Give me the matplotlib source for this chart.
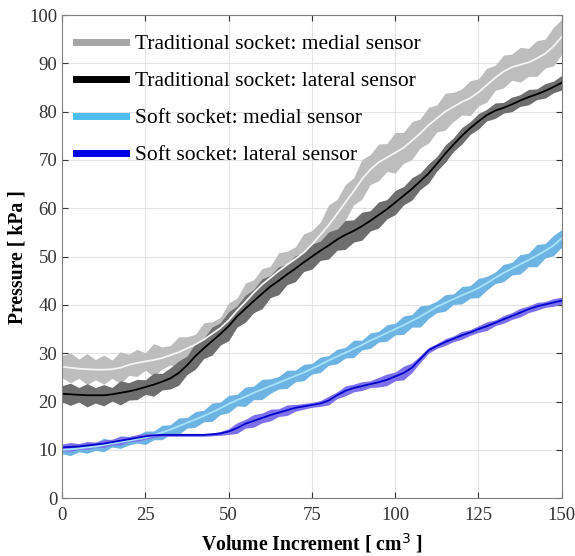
import numpy as np
import matplotlib
matplotlib.use("Agg")
import matplotlib.pyplot as plt

plt.rcParams['font.family'] = ['Liberation Serif', 'DejaVu Serif']

# volume increment grid (cm^3)
vol = np.arange(0, 150.01, 2.5)

# mean pressure curves (kPa)
trad_medial = [27.2, 27.0, 26.8, 26.7, 26.6, 26.6, 26.7, 27.0, 27.6, 28.0,
               28.3, 28.6, 29.0, 29.6, 30.2, 31.0, 31.8, 32.8, 34.0, 35.2,
               36.8, 38.8, 40.6, 42.5, 44.2, 45.6, 47.0, 48.3, 49.5, 50.8,
               52.5, 54.5, 56.5, 58.8, 61.2, 63.5, 66.0, 68.0, 69.5, 70.5,
               71.5, 72.5, 74.0, 75.5, 77.2, 78.6, 80.0, 81.0, 82.0, 82.8,
               84.0, 85.5, 87.0, 88.3, 89.2, 89.7, 90.2, 91.0, 92.0, 93.5,
               95.5]
trad_lateral = [21.6, 21.5, 21.4, 21.3, 21.3, 21.3, 21.5, 21.8, 22.1, 22.5,
                23.0, 23.5, 24.1, 24.8, 25.9, 27.5, 29.4, 31.0, 32.5, 34.0,
                35.6, 37.6, 39.2, 40.8, 42.3, 43.8, 45.0, 46.3, 47.5, 48.8,
                50.0, 51.2, 52.3, 53.5, 54.5, 55.3, 56.3, 57.4, 58.6, 59.8,
                61.2, 62.6, 64.0, 65.6, 67.2, 69.2, 71.3, 73.2, 75.0, 76.6,
                78.0, 79.3, 80.2, 80.8, 81.5, 82.3, 83.0, 83.6, 84.3, 85.1,
                86.0]
soft_medial = [10.0, 10.1, 10.3, 10.5, 10.7, 11.0, 11.3, 11.6, 11.9, 12.2,
               12.5, 13.0, 13.6, 14.2, 14.9, 15.6, 16.3, 17.0, 17.8, 18.6,
               19.5, 20.3, 21.0, 21.8, 22.5, 23.2, 23.9, 24.6, 25.3, 26.0,
               26.8, 27.6, 28.5, 29.3, 30.1, 30.9, 31.7, 32.6, 33.4, 34.2,
               35.0, 35.8, 36.7, 37.6, 38.6, 39.6, 40.4, 41.2, 42.0, 42.7,
               43.5, 44.5, 45.6, 46.6, 47.5, 48.4, 49.3, 50.2, 51.2, 52.3,
               53.8]
soft_lateral = [10.5, 10.6, 10.7, 10.9, 11.1, 11.3, 11.6, 11.9, 12.2, 12.5,
                12.8, 13.0, 13.1, 13.1, 13.1, 13.1, 13.1, 13.1, 13.2, 13.4,
                13.8, 14.5, 15.4, 16.0, 16.6, 17.2, 17.7, 18.2, 18.7, 19.0,
                19.3, 19.6, 20.2, 21.3, 22.2, 22.8, 23.2, 23.6, 24.0, 24.5,
                25.2, 25.9, 27.0, 28.8, 30.6, 31.5, 32.3, 33.0, 33.7, 34.3,
                35.0, 35.6, 36.3, 37.0, 37.7, 38.4, 39.1, 39.7, 40.1, 40.5,
                40.9]

# spread (half width of the shaded band), estimated
trad_medial_sd = [2.3, 3.1, 2.0, 3.2, 2.1, 3.0, 1.9, 3.3, 2.2, 2.8,
                  1.8, 3.4, 2.3, 2.0, 3.2, 2.4, 2.1, 3.5, 2.5, 2.2,
                  3.6, 2.6, 3.9, 2.7, 3.3, 2.4, 3.8, 2.8, 2.5, 3.9,
                  2.9, 2.6, 4.2, 3.0, 3.7, 2.8, 4.1, 3.1, 3.8, 2.9,
                  4.2, 3.2, 3.9, 3.0, 3.7, 2.8, 3.8, 3.0, 2.7, 3.6,
                  2.8, 3.5, 2.6, 3.4, 2.7, 3.6, 2.9, 3.7, 3.0, 4.0,
                  3.6]
trad_lateral_sd = [1.7, 2.3, 1.5, 2.4, 1.6, 2.2, 1.4, 2.5, 1.8, 2.1,
                   1.5, 2.4, 1.7, 2.2, 2.5, 1.9, 2.7, 2.1, 2.9, 2.3,
                   3.0, 2.2, 2.8, 2.4, 3.1, 2.3, 2.9, 2.1, 2.7, 1.9,
                   2.6, 2.0, 2.8, 2.2, 3.0, 2.3, 2.9, 2.1, 2.7, 2.0,
                   2.5, 1.9, 2.3, 1.7, 2.0, 1.5, 1.8, 1.4, 1.7, 1.3,
                   1.6, 1.2, 1.6, 1.1, 1.5, 1.2, 1.6, 1.1, 1.5, 1.2,
                   1.5]
soft_medial_sd = [0.8, 1.3, 0.7, 1.2, 0.8, 1.4, 0.7, 1.3, 0.9, 0.8,
                  1.4, 0.9, 1.5, 1.0, 1.7, 1.1, 1.6, 1.2, 1.9, 1.3,
                  1.8, 1.2, 2.0, 1.4, 2.1, 1.5, 1.3, 1.9, 1.2, 1.7,
                  1.1, 1.6, 1.0, 1.5, 1.1, 1.8, 1.0, 1.6, 1.1, 1.7,
                  1.2, 1.9, 1.3, 2.2, 1.4, 1.2, 1.7, 1.1, 1.8, 1.3,
                  2.0, 1.4, 1.2, 1.8, 1.3, 2.0, 1.4, 2.3, 1.5, 2.1,
                  1.8]
soft_lateral_sd = [0.7, 0.9, 0.6, 0.8, 0.5, 0.8, 0.6, 0.9, 0.5, 0.7,
                   0.6, 0.4, 0.3, 0.3, 0.3, 0.3, 0.3, 0.3, 0.3, 0.4,
                   0.6, 1.1, 0.9, 1.3, 1.0, 1.2, 0.8, 1.1, 0.7, 0.6,
                   0.5, 0.6, 0.9, 0.7, 1.0, 0.8, 0.9, 0.7, 1.0, 1.2,
                   0.9, 1.4, 1.0, 0.7, 0.6, 0.5, 0.7, 0.6, 0.8, 0.6,
                   0.7, 0.9, 0.6, 0.8, 0.7, 0.9, 0.7, 0.8, 0.6, 0.8,
                   0.7]

labels = ['Traditional socket: medial sensor',
          'Traditional socket: lateral sensor',
          'Soft socket: medial sensor',
          'Soft socket: lateral sensor']
means = [trad_medial, trad_lateral, soft_medial, soft_lateral]
spreads = [trad_medial_sd, trad_lateral_sd, soft_medial_sd, soft_lateral_sd]
band_colors = ['#bdbdbd', '#6e6e6e', '#6db4e2', '#7d70ee']
line_colors = ['#f4f4f4', '#000000', '#a6e3f6', '#0000c8']
legend_colors = ['#a5a5a5', '#000000', '#4dbeee', '#0000e6']

fig = plt.figure(figsize=(5.75, 5.56), dpi=100)
ax = fig.add_axes([0.108, 0.104, 0.869, 0.869])

for m, s, c in zip(means, spreads, band_colors):
    m = np.array(m)
    s = np.array(s)
    ax.fill_between(vol, m - s, m + s, color=c, linewidth=0)

for m, c in zip(means, line_colors):
    ax.plot(vol, m, color=c, linewidth=1.3)

# legend handles use the thick legend colours
handles = [plt.Line2D([], [], color=c, linewidth=5) for c in legend_colors]
ax.legend(handles, labels, loc='upper left', frameon=False, fontsize=15.5,
          handlelength=2.3, handletextpad=0.4, labelspacing=0.78,
          borderaxespad=0.4, borderpad=0.5, bbox_to_anchor=(-0.01, 1.0))

ax.set_xlim(0, 150)
ax.set_ylim(0, 100)
ax.set_xticks(np.arange(0, 151, 25))
ax.set_yticks(np.arange(0, 101, 10))
ax.grid(True, color='#e4e4e4', linewidth=0.8)
ax.set_axisbelow(True)
ax.tick_params(direction='in', top=True, right=True, labelsize=13.5,
               colors='#333333', length=4)
ax.tick_params(axis='x', pad=6)
for sp in ax.spines.values():
    sp.set_color('#808080')
    sp.set_linewidth(0.8)

ax.set_xlabel('Volume Increment [ cm$^3$ ]', fontsize=14.2, fontweight='bold',
              labelpad=6)
ax.set_ylabel('Pressure [ kPa ]', fontsize=14.2, fontweight='bold', labelpad=1)

fig.savefig('out.png', dpi=100)
